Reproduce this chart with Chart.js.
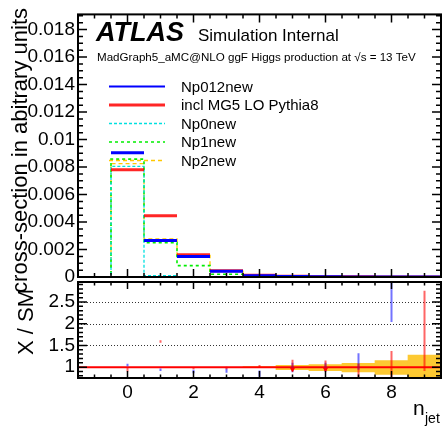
<!DOCTYPE html>
<html>
<head>
<meta charset="utf-8">
<title>n_jet</title>
<script src="https://cdn.jsdelivr.net/npm/chart.js@4.4.1/dist/chart.umd.min.js"></script>
<style>
  html, body { margin: 0; padding: 0; background: #fff; }
  #wrap { position: relative; width: 442px; height: 427px; }
  #wrap canvas { position: absolute; left: 0; top: 0; }
</style>
</head>
<body>
<div id="wrap">
  <canvas id="topChart" width="442" height="427"></canvas>
  <canvas id="ratioChart" width="442" height="427"></canvas>
</div>
<script>
const FONT = '"Liberation Sans", Arial, Helvetica, sans-serif';

// bin centres of the n_jet histograms
const nJet = [-1, 0, 1, 2, 3, 4, 5, 6, 7, 8, 9];

// normalised cross-section per bin (top panel)
const np012new = [null, 0.00904, 0.00266, 0.00150, 0.00042, 0.00009, 0.00003, 0.000012, 0.000006, 0.000003, 0.000002];
const inclMG5  = [null, 0.00780, 0.00446, 0.00162, 0.00045, 0.00012, 0.00005, 0.00002, 0.00001, 0.000005, 0.000003];
const np0new   = [0, 0.00805, 0.00010, 0, 0, 0, 0, 0, 0, 0, 0];
const np1new   = [0, 0.00857, 0.00250, 0.00083, 0.00020, 0.00004, 0.00001, 0, 0, 0, 0];
const np2new   = [0, 0.00825, 0.00278, 0.00158, 0.00043, 0.00010, 0.00003, 0.00001, 0, 0, 0];

// ratio panel (X / SM), bins 0..9
const ratioBins   = [0, 1, 2, 3, 4, 5, 6, 7, 8, 9];
const ratioBlue   = [1.05, 0.94, 0.90, 0.92, 0.85, 0.96, 0.95, 1.13, 2.60, null];
const ratioBlueLo = [1.02, 0.91, 0.86, 0.87, 0.78, 0.88, 0.90, 0.94, 2.04, null];
const ratioBlueHi = [1.08, 0.97, 0.94, 0.97, 0.92, 1.10, 1.10, 1.32, 3.20, null];
const ratioRed    = [0.94, 1.59, 0.97, 0.98, 1.01, 0.95, 0.95, 0.92, 1.00, 1.83];
const ratioRedLo  = [0.90, 1.56, 0.95, 0.95, 0.98, 0.90, 0.90, 0.74, 0.70, 0.91];
const ratioRedHi  = [0.98, 1.62, 1.00, 1.01, 1.05, 1.17, 1.15, 1.08, 1.37, 2.76];
const smBandLo    = [null, null, null, null, 0.985, 0.94, 0.92, 0.89, 0.83, 0.70];
const smBandHi    = [null, null, null, null, 1.015, 1.04, 1.06, 1.09, 1.15, 1.28];

// axis ticks
const yTicksTop   = [0, 0.002, 0.004, 0.006, 0.008, 0.01, 0.012, 0.014, 0.016, 0.018];
const yTicksRatio = [1, 1.5, 2, 2.5];
const xTicks      = [0, 2, 4, 6, 8];

// step histogram: one point per left bin edge, plus the last right edge
function stepPoints(vals) {
  const pts = nJet.map((c, i) => ({ x: c - 0.5, y: vals[i] }));
  pts.push({ x: nJet[nJet.length - 1] + 0.5, y: vals[vals.length - 1] });
  return pts;
}

// only the horizontal bar of each bin
function flatPoints(vals) {
  const pts = [];
  nJet.forEach((c, i) => {
    if (vals[i] === null) return;
    pts.push({ x: c - 0.5, y: vals[i] }, { x: c + 0.5, y: vals[i] }, { x: c + 0.5, y: null });
  });
  return pts;
}

// vertical error bars
function errPoints(lo, hi) {
  const pts = [];
  ratioBins.forEach((c, i) => {
    if (lo[i] === null) return;
    pts.push({ x: c, y: lo[i] }, { x: c, y: hi[i] }, { x: c, y: null });
  });
  return pts;
}

// yellow band, one floating bar per bin
function bandBars() {
  const bars = [];
  ratioBins.forEach((c, i) => {
    if (smBandLo[i] === null) return;
    bars.push({ x: c, y: [smBandLo[i], smBandHi[i]] });
  });
  return bars;
}

// frame with inward ticks on all four sides
function frameTicks(id, cfg) {
  return {
    id: id,
    beforeDatasetsDraw(chart) {
      if (!cfg.grid) return;
      const { ctx, chartArea: a, scales: { y } } = chart;
      ctx.save();
      ctx.strokeStyle = '#333';
      ctx.lineWidth = 1;
      ctx.setLineDash([1, 2]);
      cfg.grid.forEach(v => {
        const py = Math.round(y.getPixelForValue(v)) + 0.5;
        ctx.beginPath(); ctx.moveTo(a.left, py); ctx.lineTo(a.right, py); ctx.stroke();
      });
      ctx.restore();
    },
    afterDatasetsDraw(chart) {
      const { ctx, chartArea: a, scales: { x, y } } = chart;
      ctx.save();
      ctx.strokeStyle = '#000';
      ctx.lineWidth = 1.5;
      ctx.beginPath();
      const isMajor = (v, step) => Math.abs(v / step - Math.round(v / step)) < 1e-6;
      let k0 = Math.ceil(x.min / cfg.xMinor - 1e-6), k1 = Math.floor(x.max / cfg.xMinor + 1e-6);
      for (let k = k0; k <= k1; k++) {
        const v = k * cfg.xMinor, px = x.getPixelForValue(v);
        const len = isMajor(v, cfg.xMajor) ? cfg.xLen[0] : cfg.xLen[1];
        ctx.moveTo(px, a.bottom); ctx.lineTo(px, a.bottom - len);
        ctx.moveTo(px, a.top); ctx.lineTo(px, a.top + len);
      }
      k0 = Math.ceil(y.min / cfg.yMinor - 1e-6); k1 = Math.floor(y.max / cfg.yMinor + 1e-6);
      for (let k = k0; k <= k1; k++) {
        const v = k * cfg.yMinor, py = y.getPixelForValue(v);
        const len = isMajor(v, cfg.yMajor) ? 9 : 5;
        ctx.moveTo(a.left, py); ctx.lineTo(a.left + len, py);
        ctx.moveTo(a.right, py); ctx.lineTo(a.right - len, py);
      }
      ctx.stroke();
      ctx.lineWidth = 2;
      ctx.strokeRect(a.left, a.top, a.right - a.left, a.bottom - a.top);
      ctx.restore();
    }
  };
}

// ATLAS label, legend and y title of the top panel
const topText = {
  id: 'topText',
  afterDraw(chart) {
    const ctx = chart.ctx;
    ctx.save();
    ctx.fillStyle = '#000';
    ctx.textBaseline = 'alphabetic';
    ctx.font = 'italic bold 27px ' + FONT;
    ctx.fillText('ATLAS', 96, 40.5);
    ctx.font = '17px ' + FONT;
    ctx.fillText('Simulation Internal', 198, 40.5);
    ctx.font = '11.6px ' + FONT;
    ctx.fillText('MadGraph5_aMC@NLO ggF Higgs production at \u221As = 13 TeV', 97, 60.5);

    ctx.font = '15px ' + FONT;
    chart.data.datasets.forEach((ds, i) => {
      const ly = 86.5 + 18.5 * i;
      ctx.strokeStyle = ds.borderColor;
      ctx.lineWidth = ds.legendWidth || ds.borderWidth;
      ctx.setLineDash(ds.borderDash || []);
      ctx.beginPath(); ctx.moveTo(109, ly); ctx.lineTo(165, ly); ctx.stroke();
      ctx.fillText(ds.label, 181, ly + 5);
    });
    ctx.setLineDash([]);

    ctx.font = '22px ' + FONT;
    ctx.translate(27, 8);
    ctx.rotate(-Math.PI / 2);
    ctx.textAlign = 'right';
    ctx.fillText('cross-section in abitrary units', 0, 0);
    ctx.restore();
  }
};

// titles of the ratio panel
const ratioText = {
  id: 'ratioText',
  afterDraw(chart) {
    const ctx = chart.ctx;
    ctx.save();
    ctx.fillStyle = '#000';
    ctx.font = '21px ' + FONT;
    ctx.fillText('n', 413, 415);
    ctx.font = '14px ' + FONT;
    ctx.fillText('jet', 425, 423);
    ctx.font = '22px ' + FONT;
    ctx.translate(33, 322);
    ctx.rotate(-Math.PI / 2);
    ctx.textAlign = 'center';
    ctx.fillText('X / SM', 0, 0);
    ctx.restore();
  }
};

const tickFont = { family: FONT, size: 19 };

new Chart(document.getElementById('topChart'), {
  type: 'line',
  data: {
    datasets: [
      { label: 'Np012new', data: flatPoints(np012new), borderColor: '#0000ff', borderWidth: 3, legendWidth: 2 },
      { label: 'incl MG5 LO Pythia8', data: flatPoints(inclMG5), borderColor: 'rgba(255,0,0,0.85)', borderWidth: 3 },
      { label: 'Np0new', data: stepPoints(np0new), borderColor: '#00e0e0', borderWidth: 1.3, borderDash: [3, 2], stepped: true },
      { label: 'Np1new', data: stepPoints(np1new), borderColor: '#00ee00', borderWidth: 1.6, borderDash: [3, 3], stepped: true },
      { label: 'Np2new', data: stepPoints(np2new), borderColor: '#ffc800', borderWidth: 1.3, borderDash: [4, 3], stepped: true }
    ]
  },
  options: {
    responsive: false,
    animation: false,
    layout: { padding: { top: 7, right: 1, bottom: 150, left: 0 } },
    elements: { point: { radius: 0 }, line: { tension: 0 } },
    plugins: { legend: { display: false }, tooltip: { enabled: false } },
    scales: {
      x: { type: 'linear', min: -1.5, max: 9.5, offset: false, display: false },
      y: {
        min: 0, max: 0.0191,
        afterFit: s => { s.width = 78; },
        afterBuildTicks: s => { s.ticks = yTicksTop.map(v => ({ value: v })); },
        grid: { display: false, drawTicks: false },
        border: { display: false },
        ticks: { color: '#000', font: tickFont, padding: 3, callback: v => String(+v.toFixed(4)) }
      }
    }
  },
  plugins: [frameTicks('topFrame', { xMajor: 2, xMinor: 0.5, xLen: [8, 4], yMajor: 0.002, yMinor: 0.0005 }), topText]
});

new Chart(document.getElementById('ratioChart'), {
  type: 'line',
  data: {
    datasets: [
      {
        type: 'bar', label: 'SM uncertainty', data: bandBars(),
        backgroundColor: '#fdc932', borderWidth: 0, barPercentage: 1, categoryPercentage: 1, grouped: false, order: 10
      },
      { label: 'SM', data: [{ x: -1.5, y: 1 }, { x: 9.5, y: 1 }], borderColor: '#ff0000', borderWidth: 2, order: 5 },
      { label: 'Np012new / SM', data: errPoints(ratioBlueLo, ratioBlueHi), borderColor: 'rgba(0,0,255,0.55)', borderWidth: 2, order: 3 },
      { label: 'incl / SM', data: errPoints(ratioRedLo, ratioRedHi), borderColor: 'rgba(255,0,0,0.6)', borderWidth: 2, order: 2 },
      {
        label: 'incl / SM value', data: ratioBins.map((c, i) => ({ x: c, y: ratioRed[i] })), showLine: false,
        pointStyle: 'triangle', rotation: 180, pointRadius: [0, 0, 0, 0, 0, 3, 3, 0, 0, 0],
        backgroundColor: '#ff0000', borderWidth: 0, order: 1
      }
    ]
  },
  options: {
    responsive: false,
    animation: false,
    layout: { padding: { top: 282, right: 1, bottom: 19, left: 0 } },
    elements: { point: { radius: 0 }, line: { tension: 0 } },
    plugins: { legend: { display: false }, tooltip: { enabled: false } },
    scales: {
      x: {
        type: 'linear', min: -1.5, max: 9.5, offset: false,
        afterFit: s => { s.height = 30; },
        afterBuildTicks: s => { s.ticks = xTicks.map(v => ({ value: v })); },
        grid: { display: false, drawTicks: false, offset: false },
        border: { display: false },
        ticks: { color: '#000', font: tickFont, padding: 3, maxRotation: 0, autoSkip: false }
      },
      y: {
        min: 0.75, max: 2.96,
        afterFit: s => { s.width = 78; },
        afterBuildTicks: s => { s.ticks = yTicksRatio.map(v => ({ value: v })); },
        grid: { display: false, drawTicks: false },
        border: { display: false },
        ticks: { color: '#000', font: tickFont, padding: 3, callback: v => String(v) }
      }
    }
  },
  plugins: [frameTicks('ratioFrame', { xMajor: 2, xMinor: 0.5, xLen: [7, 3.5], yMajor: 0.5, yMinor: 0.1, grid: [1.5, 2, 2.5] }), ratioText]
});
</script>
</body>
</html>
